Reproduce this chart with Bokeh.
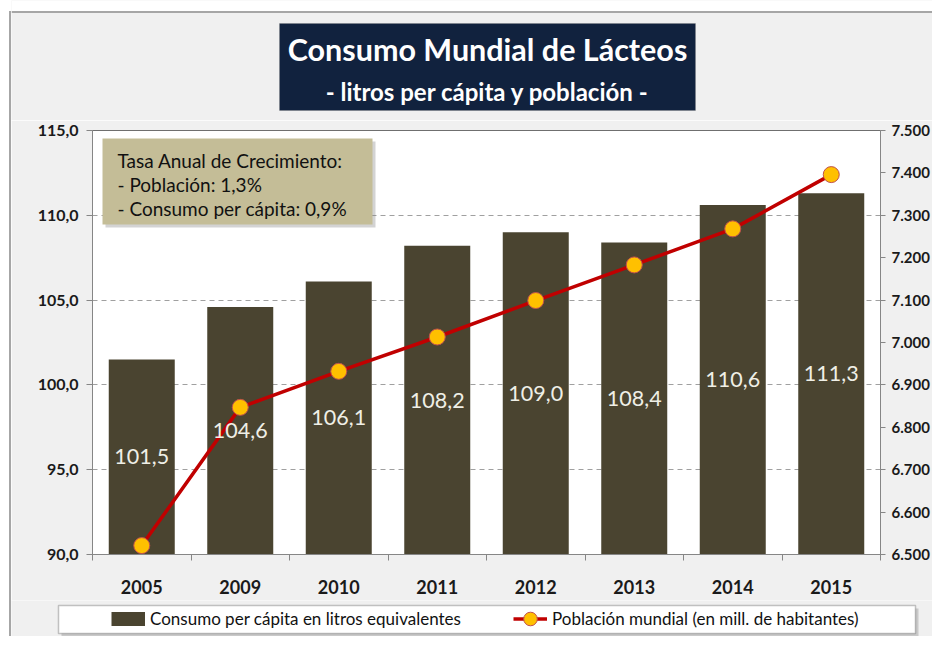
from bokeh.plotting import figure
from bokeh.layouts import row, column
from bokeh.models import (Range1d, LinearAxis, FixedTicker, BoxAnnotation, Label,
                          Legend, LegendItem, ColumnDataSource)
from bokeh.core.properties import value
from bokeh.embed import file_html
from bokeh.resources import INLINE

# ---- data ----
years = ["2005", "2009", "2010", "2011", "2012", "2013", "2014", "2015"]
consumo = [101.5, 104.6, 106.1, 108.2, 109.0, 108.4, 110.6, 111.3]
poblacion = [6521, 6847, 6932, 7013, 7099, 7183, 7268, 7396]
left_ticks = [90, 95, 100, 105, 110, 115]
right_ticks = [6500, 6600, 6700, 6800, 6900, 7000, 7100, 7200, 7300, 7400, 7500]
title_main = "Consumo Mundial de Lácteos"
title_sub = "- litros per cápita y población -"
note_lines = ["Tasa Anual de Crecimiento:", "- Población: 1,3%", "- Consumo per cápita: 0,9%"]
legend_labels = ["Consumo per cápita en litros equivalentes",
                 "Población mundial (en mill. de habitantes)"]

FONT = "Lato"
BAR = "#4a4430"
LINE = "#c00000"
MK_FILL = "#ffc000"
MK_LINE = "#c0504d"
BG = "#f0f0f0"
BORDER = "#a6a6a6"

W = 921          # width of the column figures
STRIP_W = 11     # left strip (outer border)
TOP_H, MAIN_H, LEG_H = 120, 480, 36


def blank(w, h):
    f = figure(width=w, height=h, output_backend="svg", toolbar_location=None,
               x_axis_type=None, y_axis_type=None, min_border=0,
               x_range=Range1d(0, w), y_range=Range1d(h, 0))
    f.outline_line_color = None
    f.background_fill_color = BG
    f.border_fill_color = BG
    return f


# ---- left strip with the outer border line ----
strip = blank(STRIP_W, TOP_H + MAIN_H + LEG_H)
strip.background_fill_color = "white"
strip.add_layout(BoxAnnotation(left=8.5, right=STRIP_W, top=10.5, bottom=TOP_H + MAIN_H + LEG_H,
                               fill_color=BG, fill_alpha=1, line_alpha=0))
strip.add_layout(BoxAnnotation(left=8.5, right=10.5, top=10.5, bottom=TOP_H + MAIN_H + LEG_H,
                               fill_color=BORDER, fill_alpha=1, line_alpha=0))

# ---- title figure ----
top = blank(W, TOP_H)
top.add_layout(BoxAnnotation(top=0, bottom=10.5, fill_color="white", fill_alpha=1, line_alpha=0))
top.add_layout(BoxAnnotation(top=10.5, bottom=12.5, fill_color=BORDER, fill_alpha=1, line_alpha=0))
top.add_layout(BoxAnnotation(left=268, right=684, top=23, bottom=110, fill_color="#11223e",
                             fill_alpha=1, line_color="#7f7f7f", line_width=1))
top.add_layout(Label(x=476, y=48, text=title_main, text_align="center", text_baseline="middle",
                     text_color="white", text_font=FONT, text_font_style="bold",
                     text_font_size="30.5px"))
top.add_layout(Label(x=476, y=91, text=title_sub, text_align="center", text_baseline="middle",
                     text_color="white", text_font=FONT, text_font_style="bold",
                     text_font_size="24px"))

# ---- main chart ----
xpos = list(range(1, len(years) + 1))
bar_labels = [f"{v:.1f}".replace(".", ",") for v in consumo]
mids = [(left_ticks[0] + v) / 2 for v in consumo]
src = ColumnDataSource(dict(x=xpos, consumo=consumo, pob=poblacion, lab=bar_labels, mid=mids))

p = figure(width=W, height=MAIN_H, output_backend="svg", toolbar_location=None,
           x_range=Range1d(0.5, len(years) + 0.5),
           y_range=Range1d(left_ticks[0], left_ticks[-1]),
           min_border_left=81, min_border_right=50, min_border_top=10, min_border_bottom=46)
p.extra_y_ranges = {"pob": Range1d(right_ticks[0], right_ticks[-1])}
p.border_fill_color = BG
p.background_fill_color = "white"
p.outline_line_color = "#6f6f6f"
p.outline_line_width = 1

p.xgrid.visible = False
p.ygrid.grid_line_color = "#a0a0a0"
p.ygrid.grid_line_dash = "5 4"
p.ygrid.grid_line_width = 1

bars = p.vbar(x="x", top="consumo", bottom=left_ticks[0], width=0.67, source=src,
              fill_color=BAR, line_color=None)
ln = p.line(x="x", y="pob", source=src, y_range_name="pob", line_color=LINE, line_width=3.5)
sc = p.scatter(x="x", y="pob", source=src, y_range_name="pob", size=16,
               fill_color=MK_FILL, line_color=MK_LINE, line_width=1)
p.text(x="x", y="mid", text="lab", source=src, text_align="center", text_baseline="middle",
       text_font=value(FONT), text_font_size="21.5px", text_color="#efefe6")

ya = p.yaxis[0]
ya.ticker = FixedTicker(ticks=left_ticks)
ya.major_label_overrides = {t: f"{t:.1f}".replace(".", ",") for t in left_ticks}
ya.major_label_text_font = FONT
ya.major_label_text_font_style = "bold"
ya.major_label_text_font_size = "16px"
ya.major_label_text_color = "#1a1a1a"
ya.axis_line_color = "#868686"
ya.major_tick_line_color = "#868686"
ya.major_tick_out = 6
ya.major_tick_in = 0
ya.minor_tick_line_color = None
ya.major_label_standoff = 8

ra = LinearAxis(y_range_name="pob", ticker=FixedTicker(ticks=right_ticks))
ra.major_label_overrides = {t: f"{t:,}".replace(",", ".") for t in right_ticks}
ra.major_label_text_font = FONT
ra.major_label_text_font_style = "bold"
ra.major_label_text_font_size = "15px"
ra.major_label_text_color = "#1a1a1a"
ra.axis_line_color = "#868686"
ra.major_tick_line_color = "#868686"
ra.major_tick_out = 5
ra.major_tick_in = 0
ra.minor_tick_line_color = None
ra.major_label_standoff = 6
p.add_layout(ra, "right")

xa = p.xaxis[0]
xa.ticker = FixedTicker(ticks=xpos, minor_ticks=[i + 0.5 for i in range(len(years) + 1)])
xa.major_label_overrides = {i + 1: y for i, y in enumerate(years)}
xa.major_label_text_font = FONT
xa.major_label_text_font_style = "bold"
xa.major_label_text_font_size = "18px"
xa.major_label_text_color = "#1a1a1a"
xa.axis_line_color = "#868686"
xa.major_tick_line_color = None
xa.major_tick_out = 0
xa.major_tick_in = 0
xa.minor_tick_line_color = "#868686"
xa.minor_tick_out = 6
xa.minor_tick_in = 0
xa.major_label_standoff = 19

# note box (inside the plot frame)
cu = dict(left_units="canvas", right_units="canvas", top_units="canvas", bottom_units="canvas")
p.add_layout(BoxAnnotation(left=94, right=364, top=21, bottom=107, fill_color="#808080",
                           fill_alpha=0.35, line_alpha=0, **cu))
p.add_layout(BoxAnnotation(left=91, right=361, top=18, bottom=104, fill_color="#c4bd97",
                           fill_alpha=1, line_alpha=0, **cu))
for i, t in enumerate(note_lines):
    p.add_layout(Label(x=106, y=40 + 24 * i, x_units="canvas", y_units="canvas", text=t,
                       text_align="left", text_baseline="middle", text_color="#111111",
                       text_font=FONT, text_font_size="19px"))

# ---- legend figure ----
leg = blank(W, LEG_H)
leg.add_layout(BoxAnnotation(left=50, right=907, top=8, bottom=36, fill_color="#808080",
                             fill_alpha=0.35, line_alpha=0))
leg.add_layout(BoxAnnotation(left=47, right=904, top=5, bottom=33, fill_color="white",
                             fill_alpha=1, line_color="#404040", line_width=1.5))
# legend-only renderers (kept off the visible range of this strip)
dummy = ColumnDataSource(dict(x=[-100], y=[-100]))
lb = leg.line(x="x", y="y", source=dummy, line_color=BAR, line_width=14, line_cap="butt")
ll = leg.line(x="x", y="y", source=dummy, line_color=LINE, line_width=3.5)
ls = leg.scatter(x="x", y="y", source=dummy, size=14, fill_color=MK_FILL,
                 line_color=MK_LINE, line_width=1)
legend = Legend(items=[LegendItem(label=legend_labels[0], renderers=[lb]),
                       LegendItem(label=legend_labels[1], renderers=[ll, ls])],
                location=(100, 0), orientation="horizontal", padding=0, spacing=51,
                label_width=312, glyph_width=34, glyph_height=35, label_standoff=5,
                background_fill_alpha=0, border_line_alpha=0, margin=0,
                label_text_font=FONT, label_text_font_size="17px", label_text_color="#111111")
leg.add_layout(legend)

layout = row(strip, column(row(top), p, row(leg)))
open("out.html", "w").write(file_html(layout, INLINE))
